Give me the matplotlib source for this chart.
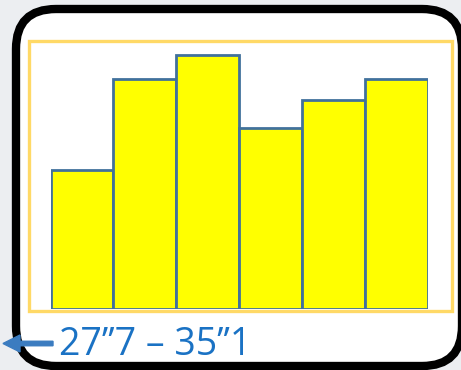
import matplotlib
matplotlib.use("Agg")
import matplotlib.pyplot as plt
from matplotlib.patches import FancyBboxPatch, Rectangle, FancyArrow

# Data
categories = ["1", "2", "3", "4", "5", "6"]
values = [5.47, 9.06, 10.0, 7.13, 8.23, 9.06]
label_text = "27\u2019\u20197 \u2013 35\u2019\u20191"

W, H = 461, 370
fig = plt.figure(figsize=(W / 100, H / 100), dpi=100)
fig.patch.set_facecolor("#eceef1")

# Overlay axes in pixel coordinates for decorations
deco = fig.add_axes([0, 0, 1, 1])
deco.set_xlim(0, W)
deco.set_ylim(H, 0)
deco.axis("off")

# Rounded black box
box = FancyBboxPatch((16, 9), 446, 357, boxstyle="round,pad=0,rounding_size=40",
                     facecolor="white", edgecolor="black", linewidth=6, zorder=1)
deco.add_patch(box)

# Gold frame
frame = Rectangle((28.5, 40.5), 423, 270, facecolor="white", edgecolor="#ffd966",
                  linewidth=2.4, zorder=2)
deco.add_patch(frame)

# Arrow and label
deco.add_patch(FancyArrow(53, 343.5, -50, 0, width=4.5, head_width=17, head_length=17,
                          length_includes_head=True, color="#3b7cc0", zorder=3))
deco.text(59, 355, label_text, color="#1a72c4", fontsize=27, family="Open Sans",
          ha="left", va="baseline", zorder=3)

# Bar axes
x0, x1 = 50.5, 427.7
yb, yt = 309, 40
ax = fig.add_axes([x0 / W, (H - yb) / H, (x1 - x0) / W, (yb - yt) / H])
ax.set_zorder(5)
ax.patch.set_alpha(0)
ax.bar(range(len(values)), values, width=1.0, color="#ffff00",
       edgecolor="#41719c", linewidth=2.0)
ax.set_xlim(-0.5, len(values) - 0.5)
ax.set_ylim(0, 10.0 * (yb - yt) / (yb - 55))
ax.axis("off")

fig.savefig("out.png", dpi=100, facecolor=fig.get_facecolor())
